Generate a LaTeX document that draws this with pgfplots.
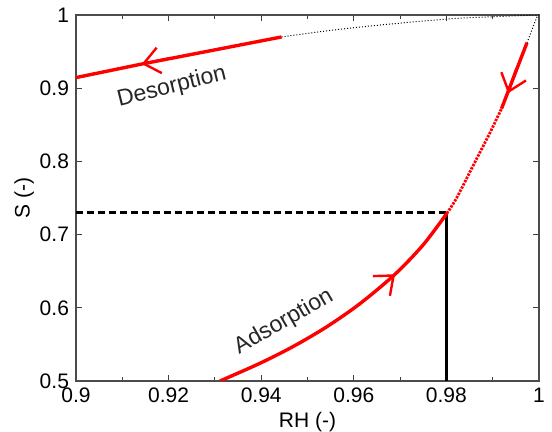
\documentclass[border=0pt]{standalone}
\usepackage{fontspec}
\setmainfont{Liberation Sans}
\usepackage{pgfplots}
\pgfplotsset{compat=1.18}
\usetikzlibrary{arrows.meta}

\begin{document}
\begin{tikzpicture}
\begin{axis}[
  at={(0,0)}, anchor=south west,
  scale only axis, width=231.5pt, height=183pt,
  xmin=0.9, xmax=1, ymin=0.5, ymax=1,
  xtick={0.9,0.92,0.94,0.96,0.98,1},
  ytick={0.5,0.6,0.7,0.8,0.9,1},
  minor x tick num=1,
  tick align=inside,
  major tick length=3pt, minor tick length=2pt,
  tick style={black!75, line width=0.5pt},
  axis line style={black!70, line width=0.7pt},
  xlabel={RH (-)}, ylabel={S (-)},
  xlabel style={yshift=2pt},
  ylabel style={yshift=-4pt},
  font=\fontsize{10.5}{12}\selectfont,
  /pgf/number format/assume math mode=true,
  /pgf/number format/fixed,
]
% dotted guide towards (1,1)
\addplot[black, line width=0.5pt, densely dotted, smooth] coordinates {
  (0.9444,0.9700)(0.9550,0.979)(0.9657,0.9863)(0.9801,0.9945)(0.9894,0.9975)(1.0,1.0)};
\addplot[black, line width=0.5pt, densely dotted] coordinates {
  (0.9974,0.962)(0.9995,0.9966)(1.0,1.0)};

% 0.73 at RH 0.98
\addplot[black, line width=1.4pt, dash pattern=on 3.5pt off 2pt] coordinates {(0.9,0.73)(0.9801,0.73)};
\addplot[black, line width=1.4pt] coordinates {(0.9801,0.5)(0.9801,0.73)};

% adsorption
\addplot[red, line width=1.7pt, smooth] coordinates {
  (0.9311,0.5)(0.9397,0.5241)(0.9469,0.5471)(0.9541,0.5738)(0.9613,0.6055)
  (0.9689,0.6458)(0.9750,0.6861)(0.9801,0.7290)};
\addplot[red, line width=1.4pt, smooth, dash pattern=on 1.2pt off 0.6pt] coordinates {
  (0.9801,0.7290)(0.9822,0.750)(0.9860,0.797)(0.9894,0.839)(0.9919,0.872)};
\addplot[red, line width=1.7pt] coordinates {(0.9974,0.962)(0.9919,0.872)};

% desorption
\addplot[red, line width=1.7pt] coordinates {
  (0.9,0.9145)(0.9142,0.9330)(0.9289,0.9510)(0.9444,0.9700)};

% arrow heads
\addplot[red, line width=1.2pt, -{Straight Barb[length=8pt,width=13pt]}]
  coordinates {(0.9660,0.630)(0.9689,0.6458)};
\addplot[red, line width=1.2pt, -{Straight Barb[length=8pt,width=13pt]}]
  coordinates {(0.9200,0.9406)(0.9142,0.9330)};
\addplot[red, line width=1.2pt, -{Straight Barb[length=8pt,width=13pt]}]
  coordinates {(0.9950,0.925)(0.9933,0.893)};

\node[rotate=30, text=black!85, font=\fontsize{11.5}{13}\selectfont]
  at (axis cs:0.9449,0.5806) {Adsorption};
\node[rotate=14, text=black!85, font=\fontsize{11.5}{13}\selectfont]
  at (axis cs:0.9207,0.9016) {Desorption};
\end{axis}
\pgfresetboundingbox
\path (-38pt,-25.5pt) rectangle (238pt,190.5pt);
\end{tikzpicture}
\end{document}
